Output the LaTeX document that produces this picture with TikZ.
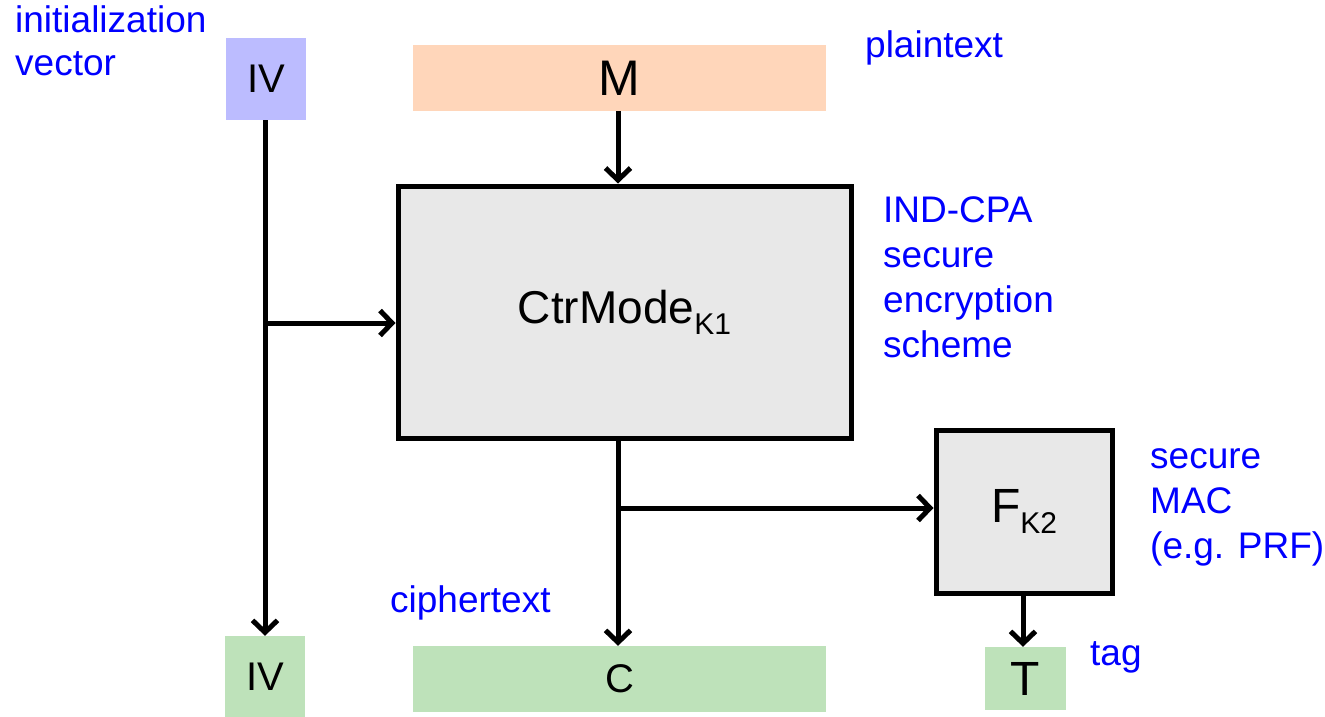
\documentclass[tikz,border=0pt]{standalone}
\usepackage{fontspec}
\setmainfont{Liberation Sans}
\usetikzlibrary{arrows.meta}
\definecolor{ivblue}{RGB}{188,188,255}
\definecolor{morange}{RGB}{255,214,186}
\definecolor{cgreen}{RGB}{190,226,186}
\definecolor{boxgray}{RGB}{232,232,232}
\definecolor{lblue}{RGB}{0,0,255}
\newcommand{\lowsub}[1]{\raisebox{-11pt}{\fontsize{30}{30}\selectfont #1}}
\tikzset{
  databox/.style={draw=none, inner sep=0pt, font=\fontsize{40}{46}\selectfont},
  procbox/.style={draw=black, line width=5pt, fill=boxgray, inner sep=0pt, font=\fontsize{46}{52}\selectfont},
  lbl/.style={text=lblue, inner sep=0pt, align=left, anchor=north west, font=\fontsize{37}{45}\selectfont},
  arr/.style={line width=5pt, -{Straight Barb[length=12pt,width=25pt,line width=5pt]}}
}
\begin{document}
\begin{tikzpicture}[x=1pt,y=-1pt]
\useasboundingbox (0,0) rectangle (1325,717);
% data boxes
\node[databox, fill=ivblue, minimum width=80pt, minimum height=82pt] (ivtop) at (266,79) {IV};
\node[databox, fill=morange, minimum width=413pt, minimum height=66pt, font=\fontsize{50}{56}\selectfont] (m) at (619.5,78) {M};
\node[databox, fill=cgreen, minimum width=80pt, minimum height=81pt] (ivbot) at (265,676.5) {IV};
\node[databox, fill=cgreen, minimum width=413pt, minimum height=66pt] (c) at (619.5,679) {C};
\node[databox, fill=cgreen, minimum width=81pt, minimum height=63pt, font=\fontsize{48}{54}\selectfont] (t) at (1025.5,678.5) {T};
% process boxes
\node[procbox, minimum width=453pt, minimum height=252pt] (ctr) at (624.5,312) {CtrMode\lowsub{K1}};
\node[procbox, minimum width=176pt, minimum height=163pt, font=\fontsize{48}{54}\selectfont] (f) at (1024,511.5) {F\lowsub{K2}};
% connectors
\coordinate (j1) at (265,323);
\coordinate (j2) at (618,508);
\draw[arr] (ivtop.south -| j1) -- (ivbot.north -| j1);
\draw[arr] (j1) -- (ctr.west |- j1);
\draw[arr] (m.south -| 618,0) -- (ctr.north -| 618,0);
\draw[arr] (ctr.south -| j2) -- (c.north -| j2);
\draw[arr] (j2) -- (f.west |- j2);
\draw[arr] (f.south -| 1023,0) -- (t.north -| 1023,0);
% labels
\node[lbl, font=\fontsize{37}{43}\selectfont] (l1) at (15,5) {initialization\\vector};
\node[lbl] (l2) at (865,30) {plaintext};
\node[lbl] (l3) at (883,196) {IND-CPA\\secure\\encryption\\scheme};
\node[lbl] (l4) at (1150,448) {secure\\MAC\\(e.g. PRF)};
\node[lbl] (l5) at (390,585) {ciphertext};
\node[lbl] (l6) at (1090,641) {tag};
\end{tikzpicture}
\end{document}
